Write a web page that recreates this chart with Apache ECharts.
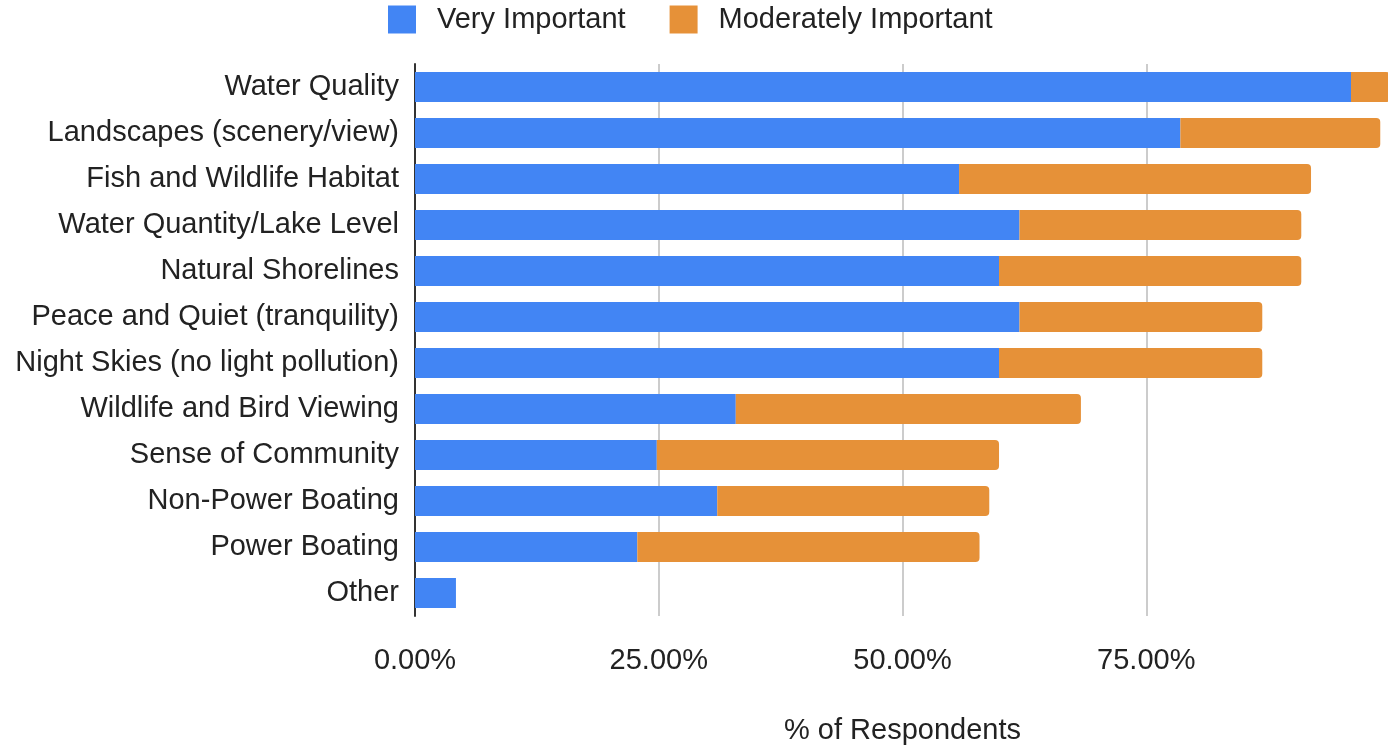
<!DOCTYPE html>
<html><head><meta charset="utf-8">
<script src="https://cdn.jsdelivr.net/npm/echarts@6/dist/echarts.min.js"></script>
<style>html,body{margin:0;padding:0;background:#fff}#c{width:1388px;height:747px}</style>
</head><body><div id="c"></div>
<script>
const categories = ["Water Quality","Landscapes (scenery/view)","Fish and Wildlife Habitat","Water Quantity/Lake Level","Natural Shorelines","Peace and Quiet (tranquility)","Night Skies (no light pollution)","Wildlife and Bird Viewing","Sense of Community","Non-Power Boating","Power Boating","Other"];
const veryImportant = [96.0, 78.5, 55.8, 62.0, 59.9, 62.0, 59.9, 32.9, 24.8, 31.0, 22.8, 4.2];
const moderatelyImportant = [4.0, 20.5, 36.1, 28.9, 31.0, 24.9, 27.0, 35.4, 35.1, 27.9, 35.1, 0];
const xTicks = [0, 25, 50, 75];

const FONT = "'Liberation Sans', Arial, sans-serif";
const FS = 29;
const chart = echarts.init(document.getElementById('c'));
chart.setOption({
  animation: false,
  textStyle: {fontFamily: FONT},
  legend: {
    top: 5, left: 388, padding: 0,
    itemWidth: 28, itemHeight: 28, itemGap: 44,
    icon: 'rect',
    textStyle: {fontSize: FS, color: '#222', fontFamily: FONT, padding: [0,0,0,16]},
    data: ['Very Important', 'Moderately Important']
  },
  grid: {left: 415, width: 975, top: 64, bottom: 131, containLabel: false, outerBoundsMode: 'none'},
  xAxis: {
    type: 'value', min: 0, max: 100, interval: 25,
    name: '% of Respondents', nameLocation: 'middle', nameGap: 100,
    nameTextStyle: {fontSize: FS, color: '#222', fontFamily: FONT},
    axisLine: {show: false}, axisTick: {show: false},
    axisLabel: {fontSize: FS, color: '#222', margin: 30, fontFamily: FONT,
      formatter: v => xTicks.indexOf(v) >= 0 ? v.toFixed(2) + '%' : ''},
    splitLine: {show: true, lineStyle: {color: '#cccccc', width: 2}}
  },
  yAxis: {
    type: 'category', inverse: true, data: categories,
    axisLine: {show: true, lineStyle: {color: '#333', width: 2}},
    axisTick: {show: false},
    axisLabel: {fontSize: FS, color: '#222', margin: 16, fontFamily: FONT}
  },
  series: [
    {name: 'Very Important', type: 'bar', stack: 'a', data: veryImportant, barWidth: 30,
     itemStyle: {color: '#4285f4'}},
    {name: 'Moderately Important', type: 'bar', stack: 'a', data: moderatelyImportant, barWidth: 30,
     itemStyle: {color: '#e69138', borderRadius: [0,4,4,0]}}
  ]
});
</script></body></html>
